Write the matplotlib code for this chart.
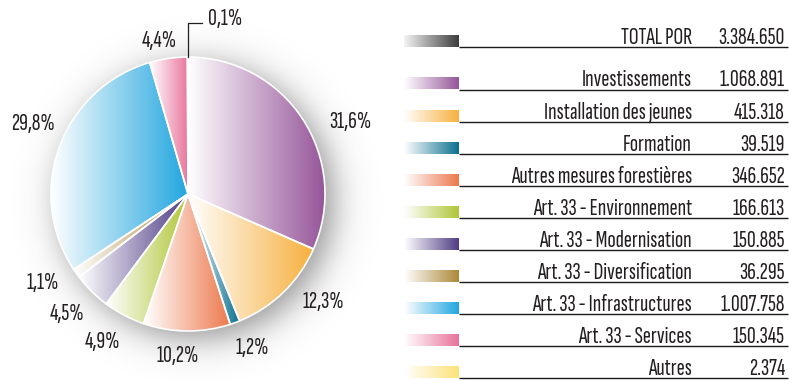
import numpy as np
import matplotlib
matplotlib.use("Agg")
import matplotlib.pyplot as plt
from matplotlib.colors import LinearSegmentedColormap
from matplotlib.textpath import TextPath
from matplotlib.font_manager import FontProperties

FAMILY = ['Sofia Sans Extra Condensed', 'DejaVu Sans']
plt.rcParams['font.family'] = FAMILY
plt.rcParams['font.weight'] = 'light'

categories = ["Investissements", "Installation des jeunes", "Formation",
              "Autres mesures forestières", "Art. 33 - Environnement",
              "Art. 33 - Modernisation", "Art. 33 - Diversification",
              "Art. 33 - Infrastructures", "Art. 33 - Services", "Autres"]
values = [1068891, 415318, 39519, 346652, 166613, 150885, 36295,
          1007758, 150345, 2374]
total_label = "TOTAL POR"
total_value = 3384650

colors = ["#96559a", "#f7b03e", "#0a7090", "#ec784c", "#b0c637",
          "#4f3d85", "#ad8838", "#22a6df", "#e8729b", "#fde27a"]
total_color = "#3c3c3c"
text_color = "#231f20"


def fmt_int(v):
    return f"{v:,}".replace(",", ".")


def fmt_pct(p):
    return f"{p:.1f}%".replace(".", ",")


# font size giving a cap height of about 16 px
cap_ratio = TextPath((0, 0), "H", size=1,
                     prop=FontProperties(family=FAMILY[0],
                                         weight='light')).get_extents().height
fs = 16.0 / cap_ratio * 0.72

W, H = 789, 380
fig = plt.figure(figsize=(W / 100, H / 100), dpi=100)
ax = fig.add_axes([0, 0, 1, 1])

cx, cy, R = 188, 186, 137

# soft drop shadow behind the pie
yy, xx = np.mgrid[0:H:1.0, 0:420:1.0]
d = np.hypot(xx - (cx + 8), yy - (cy - 8))
shadow = np.zeros((H, 420, 4))
shadow[..., :3] = 0.25
shadow[..., 3] = 0.55 / (1 + np.exp((d - R) / 10))
ax.imshow(shadow, extent=(0, 420, 0, H), origin='lower', zorder=0,
          interpolation='bilinear')

wedges, _ = ax.pie(values, startangle=90, counterclock=False,
                   center=(cx, cy), radius=R,
                   wedgeprops=dict(edgecolor='white', linewidth=1.2,
                                   facecolor='none'))

ramp = np.linspace(0, 1, 256).reshape(1, -1)
for w, c in zip(wedges, colors):
    ext = w.get_path().get_extents()
    cmap = LinearSegmentedColormap.from_list('', ['white', c])
    im = ax.imshow(ramp, cmap=cmap, extent=(ext.x0, ext.x1, ext.y0, ext.y1),
                   aspect='auto', interpolation='bilinear', zorder=1)
    im.set_clip_path(w)
    w.set_zorder(2)

# percentage labels around the pie (offsets from the centre, in pixels)
label_offsets = [(162, 72), (135, -108), (64, -154), (-10, -162),
                 (-85, -148), (-121, -120), (-145, -89), (-155, 70),
                 (-29, 153), None]
tot = sum(values)
for v, off in zip(values, label_offsets):
    if off is None:
        continue
    ax.text(cx + off[0], cy + off[1], fmt_pct(100 * v / tot), fontsize=fs,
            ha='center', va='center', color=text_color, zorder=3)

# leader for the smallest slice
top = cy + R
ax.plot([cx, cx, cx + 14], [top, H - 23, H - 23], color=text_color, lw=0.9,
        zorder=3)
ax.text(cx + 20, H - 19, fmt_pct(100 * values[-1] / tot), fontsize=fs,
        ha='left', va='center', color=text_color, zorder=3)

# legend table
sw_x0, sw_x1, line_x1 = 404, 459, 788
label_x, value_x = 692, 785


def row(line_pix, color, label, value, start='white'):
    yl = H - line_pix
    cmap = LinearSegmentedColormap.from_list('', [start, color])
    ax.imshow(ramp, cmap=cmap, extent=(sw_x0, sw_x1, yl, yl + 12),
              aspect='auto', interpolation='bilinear', zorder=1)
    ax.plot([sw_x1, line_x1], [yl, yl], color='#1a1a1a', lw=1.0, zorder=2,
            solid_capstyle='butt')
    ax.text(label_x, yl + 3, label, fontsize=fs, ha='right', va='baseline',
            color=text_color)
    ax.text(value_x, yl + 3, fmt_int(value), fontsize=fs, ha='right',
            va='baseline', color=text_color)


row(47, total_color, total_label, total_value, start='#f4f4f4')
for i, (lab, v, c) in enumerate(zip(categories, values, colors)):
    row(89.5 + i * 32.1, c, lab, v)

ax.set_xlim(0, W)
ax.set_ylim(0, H)
ax.set_aspect('auto')
ax.axis('off')
fig.savefig("out.png", dpi=100)
